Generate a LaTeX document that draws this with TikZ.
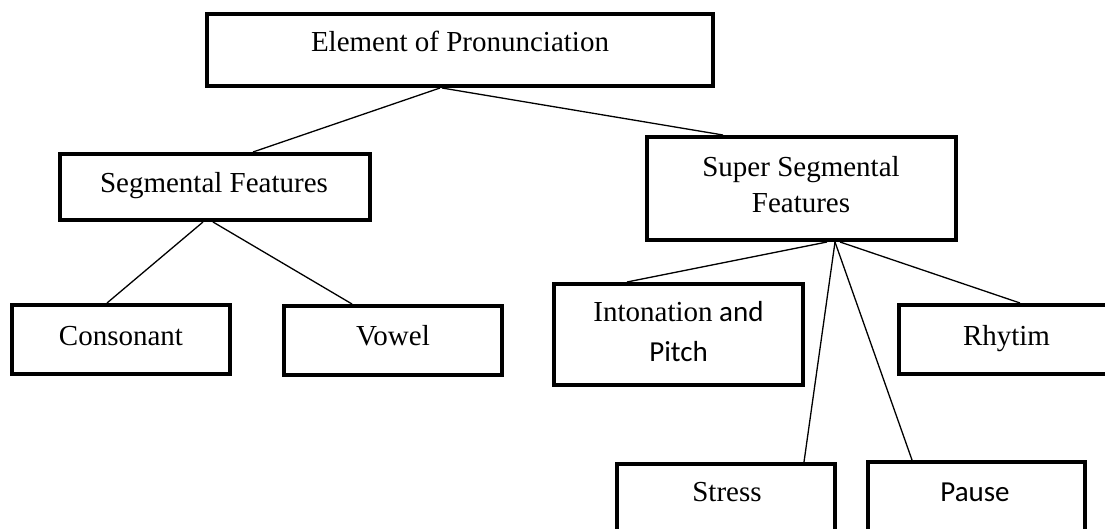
\documentclass[tikz,border=0pt]{standalone}
\usepackage{fontspec}
\setmainfont{Liberation Serif}
\newfontfamily\calibrifont{Carlito}
\begin{document}
\begin{tikzpicture}[x=1pt,y=-1pt,
  box/.style={draw=black, line width=4pt, rectangle, inner sep=0pt, fill=white},
  conn/.style={draw=black, line width=1.3pt},
  txt/.style={inner sep=0pt, anchor=base, font=\fontsize{29}{36}\selectfont}]
\useasboundingbox (0,0) rectangle (1105,529);
\clip (0,0) rectangle (1105,529);
\fill[white] (0,0) rectangle (1105,529);

% boxes
\node[box, minimum width=506pt, minimum height=72pt] (top) at (460,50) {};
\node[box, minimum width=310pt, minimum height=66pt] (seg) at (215,187) {};
\node[box, minimum width=309pt, minimum height=103pt] (sup) at (801.5,188.5) {};
\node[box, minimum width=218pt, minimum height=69pt] (cons) at (121,339.5) {};
\node[box, minimum width=218pt, minimum height=69pt] (vow) at (393,340.5) {};
\node[box, minimum width=249pt, minimum height=101pt] (into) at (678.5,334.5) {};
\node[box, minimum width=214pt, minimum height=69pt] (rhy) at (1006,339.5) {};
\node[box, minimum width=218pt, minimum height=70pt] (str) at (726,499) {};
\node[box, minimum width=217pt, minimum height=70pt] (pau) at (976.5,497) {};

% connectors
\draw[conn] ([xshift=-20pt]top.south) -- ([xshift=38pt]seg.north);
\draw[conn] ([xshift=-18pt]top.south) -- ([xshift=-78.5pt]sup.north);
\draw[conn] ([xshift=-12pt]seg.south) -- ([xshift=-14pt]cons.north);
\draw[conn] ([xshift=-2pt]seg.south) -- ([xshift=-41pt]vow.north);
\draw[conn] ([xshift=25.5pt]sup.south) -- ([xshift=-51.5pt]into.north);
\draw[conn] ([xshift=33.5pt]sup.south) -- ([xshift=78pt]str.north);
\draw[conn] ([xshift=33.5pt]sup.south) -- ([xshift=-64.5pt]pau.north);
\draw[conn] ([xshift=38.5pt]sup.south) -- ([xshift=14pt]rhy.north);

% texts
\node[txt] (ttop) at (460,52) {Element of Pronunciation};
\node[txt] (tseg) at (214,193) {Segmental Features};
\node[txt] (tsup1) at (801,177) {Super Segmental};
\node[txt] (tsup2) at (801,213) {Features};
\node[txt] (tcons) at (121,345) {Consonant};
\node[txt] (tvow) at (393,345) {Vowel};
\node[txt] (tint1) at (678.5,321.7) {Intonation\calibrifont{} and};
\node[txt] (tint2) at (678.5,361.7) {\calibrifont Pitch};
\node[txt] (trhy) at (1006.5,345) {Rhytim};
\node[txt] (tstr) at (727,501) {Stress};
\node[txt] (tpau) at (975,501) {\calibrifont Pause};
\end{tikzpicture}
\end{document}
